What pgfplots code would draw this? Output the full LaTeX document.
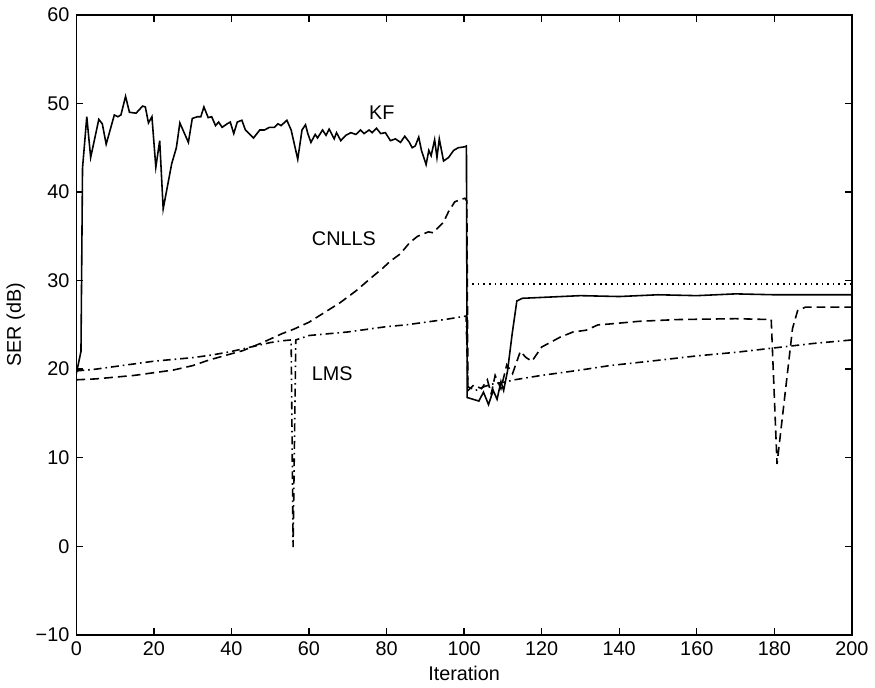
\documentclass[border=0pt]{standalone}
\usepackage{fontspec}
\setmainfont{Liberation Sans}
\usepackage{pgfplots}
\pgfplotsset{compat=1.18}

\begin{document}
\begin{tikzpicture}
\begin{axis}[
    scale only axis,
    width=391.5pt, height=313pt,
    xmin=0, xmax=200, ymin=-10, ymax=60,
    xtick={0,20,...,200},
    ytick={-10,0,...,60},
    yticklabels={−10,0,10,20,30,40,50,60},
    /pgf/number format/assume math mode=true,
    tick align=inside, tick pos=both,
    major tick length=3.5pt,
    axis line style={line width=0.8pt},
    every tick/.style={line width=0.7pt, black},
    tick label style={font=\fontsize{10}{12}\selectfont},
    label style={font=\fontsize{10}{12}\selectfont},
    xlabel={Iteration},
    ylabel={SER (dB)},
    every axis x label/.style={at={(axis description cs:0.5,-0.062)},anchor=center},
    every axis y label/.style={at={(axis description cs:-0.078,0.5)},rotate=90,anchor=center},
    every axis plot/.append style={line width=0.8pt, black, no markers},
]
% KF
\addplot[solid] coordinates {
(0,19.5) (1.2,22) (1.6,42.7) (2.7,48.5) (3.7,43.9) (5.8,48.2) (6.7,47.7) (7.7,45.4)
(9.8,48.7) (10.7,48.5) (11.5,48.7) (12.7,50.8) (13.7,49.0) (15.4,48.9) (17.1,49.7)
(17.8,49.6) (18.6,47.8) (19.5,48.5) (20.5,42.8) (21.5,45.8) (22.4,38.1) (24.6,43.2)
(25.8,45.0) (26.7,47.8) (28.9,45.6) (29.9,48.3) (31.2,48.5) (32.1,48.5) (32.9,49.6)
(34.0,48.4) (34.9,48.5) (35.9,47.5) (36.7,47.9) (37.6,47.3) (38.9,47.7) (39.7,47.9)
(40.6,46.6) (41.5,47.9) (42.7,48.1) (43.6,47.0) (45.7,46.1) (47.3,47.0) (48.5,47.0)
(49.8,47.3) (51.1,47.3) (52.0,47.7) (52.8,47.5) (54.3,48.1) (55.4,47.0) (57.1,43.7)
(58.2,47.0) (59.1,47.6) (59.7,46.6) (60.5,45.6) (61.6,46.5) (62.2,46.1) (63.5,47.0)
(64.4,46.4) (65.2,47.1) (66.5,46.0) (67.1,46.7) (68.2,45.8) (69.5,46.4) (70.8,46.7)
(72.1,46.5) (73.3,47.0) (74.2,46.6) (75.5,47.0) (76.3,46.7) (77.4,47.2) (78.5,46.6)
(79.7,46.7) (81.0,45.8) (82.3,46.0) (83.6,45.6) (84.7,46.3) (85.9,45.6) (86.6,45.0)
(87.4,45.2) (88.3,46.2) (89.0,44.7) (90.2,43.1) (90.9,44.7) (91.5,44.1) (92.4,45.9)
(93.0,43.9) (93.6,46.0) (94.7,43.5) (96.0,43.9) (97.3,44.7) (98.5,45.0) (100.1,45.1)
(100.6,45.2) (100.8,16.8) (103.8,16.4) (105,17.4) (106.3,16.0) (107.5,17.6)
(108.5,16.6) (109.5,18.6) (110.2,17.6) (111.2,19.8) (112.4,24.0) (113.6,27.7)
(115,28.0) (120,28.1) (130,28.3) (140,28.2) (150,28.4) (160,28.3) (170,28.5)
(180,28.4) (190,28.4) (200,28.4)
};
% CNLLS
\addplot[dash pattern=on 4.5pt off 2.5pt] coordinates {
(0,18.8) (5,18.9) (10,19.1) (15,19.3) (20,19.6) (25,19.9) (30,20.4) (34,21.0)
(38,21.5) (43,22.1) (48,23.0) (53,24.0) (56,24.5) (60,25.3) (64,26.4) (68,27.5)
(72,28.8) (76,30.3) (79,31.4) (81,32.2) (83.5,33.0) (86,34.3) (88,35.0) (90.8,35.5)
(92,35.4) (94.7,36.6) (96,37.8) (97.6,38.9) (100.2,39.3) (100.7,39.0) (101,17.6)
(102.5,18.2) (104.5,17.8) (106,18.8) (107,17.2) (108,19.3) (109.5,17.8) (111,20.5)
(112.5,19.5) (114.5,22.0) (116,21.3) (117.5,20.9) (120,22.5) (122.6,23.1)
(124.7,23.6) (128.1,24.2) (131.5,24.4) (134.5,25.0) (137.5,25.1) (145,25.4)
(155,25.6) (170,25.7) (179.2,25.6) (180.7,9.3) (184.7,24.6) (186,26.6) (188,27.0)
(200,27.0)
};
% LMS
\addplot[dash pattern=on 4pt off 2pt on 0.8pt off 2pt] coordinates {
(0,19.8) (5,20.0) (10,20.3) (15,20.6) (20,20.9) (25,21.1) (30,21.3) (35,21.6)
(40,22.0) (45,22.5) (50,23.0) (53,23.2) (55.4,23.3) (55.9,-0.1) (56.6,23.3)
(58,23.5) (60,23.8) (65,24.0) (70,24.2) (75,24.5) (80,24.8) (85,25.0) (90,25.3)
(95,25.6) (100.5,26.0) (101,18.0) (103,17.6) (105,18.0) (107,18.3) (110,18.5)
(113,18.8) (120,19.3) (130,19.9) (137.5,20.4) (150,21.0) (160,21.5) (170,21.9)
(178,22.3) (182,22.5) (190,22.9) (200,23.3)
};
% reference level
\addplot[dash pattern=on 0.8pt off 2pt] coordinates {(100.7,29.6) (200,29.6)};

\node[font=\fontsize{10}{12}\selectfont] at (axis cs:78.8,48.9) {KF};
\node[font=\fontsize{10}{12}\selectfont] at (axis cs:69,34.7) {CNLLS};
\node[font=\fontsize{10}{12}\selectfont] at (axis cs:66,19.5) {LMS};
\end{axis}
\path[use as bounding box] (-37.5pt,-26.5pt) rectangle (400pt,320.5pt);
\end{tikzpicture}
\end{document}
